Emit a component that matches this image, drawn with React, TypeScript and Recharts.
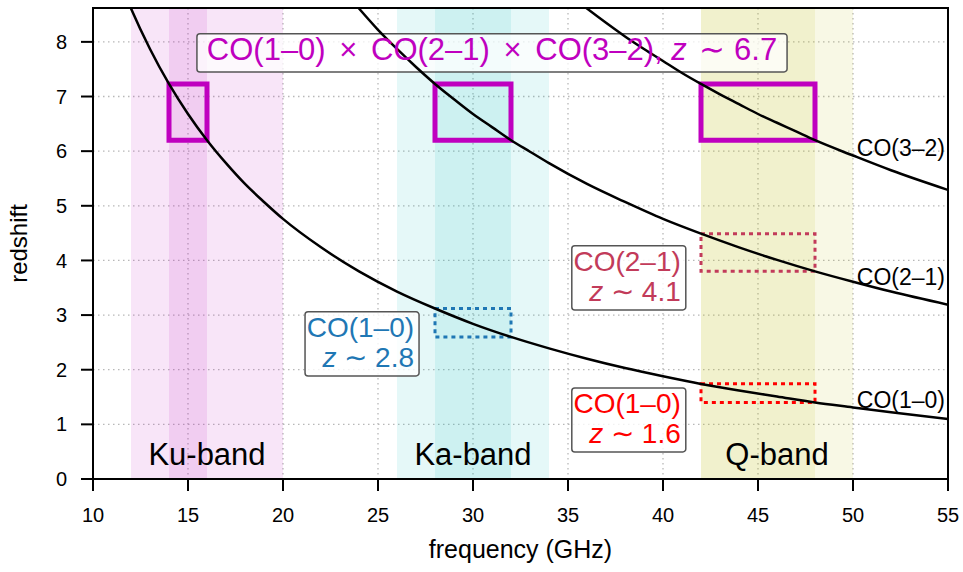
import React from "react";
import {
  CartesianGrid,
  ComposedChart,
  Line,
  ReferenceArea,
  ReferenceDot,
  XAxis,
  YAxis,
} from "recharts";

const co10Freq = [11, 12, 13, 14, 15, 16, 17, 18, 19, 20, 22, 24, 26, 28, 30, 32, 34, 36, 38, 40, 42, 44, 46, 48, 50, 52, 55];
const co10Z = [9.48, 8.61, 7.87, 7.23, 6.68, 6.2, 5.78, 5.4, 5.07, 4.76, 4.24, 3.8, 3.43, 3.12, 2.84, 2.6, 2.39, 2.2, 2.03, 1.88, 1.74, 1.62, 1.51, 1.4, 1.31, 1.22, 1.1];

const co21Freq = [23, 24, 25, 26, 27, 28, 29, 30, 31, 32, 33, 34, 36, 38, 40, 42, 44, 46, 48, 50, 52, 55];
const co21Z = [9.02, 8.61, 8.22, 7.87, 7.54, 7.23, 6.95, 6.68, 6.44, 6.2, 5.99, 5.78, 5.4, 5.07, 4.76, 4.49, 4.24, 4.01, 3.8, 3.61, 3.43, 3.19];

const co32Freq = [35, 36, 37, 38, 39, 40, 41, 42, 43, 44, 45, 46, 47, 48, 50, 52, 55];
const co32Z = [8.88, 8.61, 8.35, 8.1, 7.87, 7.65, 7.43, 7.23, 7.04, 6.86, 6.68, 6.52, 6.36, 6.2, 5.92, 5.65, 5.29];

const curveNames = ["CO(1–0)", "CO(2–1)", "CO(3–2)"];
const curveLabelZ = [1.3, 3.55, 5.92];

// receiver bands
const bandNames = ["Ku-band", "Ka-band", "Q-band"];
const bandOuter = [[12, 20], [26, 34], [42, 50]];
const bandInner = [[14, 16], [28, 32], [42, 48]];
const bandColors = ["#bf00bf", "#00bfbf", "#bfbf00"];
const bandLabelX = [16, 30, 46];

// z ~ 6.7 triple-line window
const tripleZ = [6.2, 7.23];

// single-line detection windows
const detLines = ["CO(1–0)", "CO(2–1)", "CO(1–0)"];
const detZText = ["2.8", "4.1", "1.6"];
const detColors = ["#1f77b4", "#c23b5a", "#ff0000"];
const detX = [[28, 32], [42, 48], [42, 48]];
const detY = [[2.6, 3.12], [3.8, 4.49], [1.4, 1.745]];
const detBoxX = [[21.16, 27.16], [35.2, 41.2], [35.2, 41.2]];
const detBoxY = [[1.886, 3.06], [3.095, 4.27], [0.495, 1.667]];

const xTicks = [10, 15, 20, 25, 30, 35, 40, 45, 50, 55];
const yTicks = [0, 1, 2, 3, 4, 5, 6, 7, 8];

const toRows = (fs: number[], zs: number[]) => fs.map((f, i) => ({ f, z: zs[i] }));
const curves = [toRows(co10Freq, co10Z), toRows(co21Freq, co21Z), toRows(co32Freq, co32Z)];

const MAGENTA = "#bf00bf";

export default function App() {
  return (
    <div
      style={{
        position: "absolute",
        left: 0,
        top: 0,
        width: 963,
        height: 572,
        background: "#fff",
        fontFamily: '"Liberation Sans", Arial, sans-serif',
      }}
    >
      <ComposedChart width={963} height={572} margin={{ top: 8, right: 15, left: 0, bottom: 0 }}>
        <CartesianGrid stroke="#b8b8b8" strokeWidth={1.3} strokeDasharray="1.5 3.5" />
        <XAxis
          type="number"
          dataKey="f"
          domain={[10, 55]}
          ticks={xTicks}
          allowDataOverflow
          height={93}
          stroke="#000"
          strokeWidth={2}
          tickSize={12}
          tickMargin={17}
          tick={{ fill: "#000", fontSize: 20 }}
          label={({ viewBox }: any) => (
            <text x={viewBox.x + viewBox.width / 2} y={viewBox.y + 79} textAnchor="middle" fontSize={25} fill="#000">
              frequency (GHz)
            </text>
          )}
        />
        <YAxis
          type="number"
          domain={[0, 8.62]}
          ticks={yTicks}
          allowDataOverflow
          width={93}
          stroke="#000"
          strokeWidth={2}
          tickSize={12}
          tickMargin={14}
          tick={{ fill: "#000", fontSize: 20 }}
          label={({ viewBox }: any) => {
            const cy = viewBox.y + viewBox.height / 2;
            return (
              <text x={27} y={cy} transform={`rotate(-90 27 ${cy})`} textAnchor="middle" fontSize={24} fill="#000">
                redshift
              </text>
            );
          }}
        />

        {bandOuter.map((b, i) => (
          <ReferenceArea key={`bo${i}`} x1={b[0]} x2={b[1]} y1={0} y2={8.62} fill={bandColors[i]} fillOpacity={0.1} stroke="none" />
        ))}
        {bandInner.map((b, i) => (
          <ReferenceArea key={`bi${i}`} x1={b[0]} x2={b[1]} y1={0} y2={8.62} fill={bandColors[i]} fillOpacity={0.1} stroke="none" />
        ))}

        {curves.map((d, i) => (
          <Line
            key={curveNames[i]}
            data={d}
            dataKey="z"
            type="monotone"
            stroke="#000"
            strokeWidth={2.5}
            dot={false}
            isAnimationActive={false}
          />
        ))}

        {bandInner.map((b, i) => (
          <ReferenceArea key={`tr${i}`} x1={b[0]} x2={b[1]} y1={tripleZ[0]} y2={tripleZ[1]} fill="none" stroke={MAGENTA} strokeWidth={5} />
        ))}
        {detX.map((b, i) => (
          <ReferenceArea
            key={`dr${i}`}
            x1={b[0]}
            x2={b[1]}
            y1={detY[i][0]}
            y2={detY[i][1]}
            fill="none"
            stroke={detColors[i]}
            strokeWidth={3}
            strokeDasharray="4 4"
          />
        ))}

        <ReferenceArea x1={10} x2={55} y1={0} y2={8.62} fill="none" stroke="#000" strokeWidth={2} />

        {/* title box */}
        <ReferenceArea x1={15.47} x2={46.53} y1={7.45} y2={8.15} fill="#fff" fillOpacity={0.75} stroke="#555" strokeWidth={1.5} radius={3} />
        <ReferenceDot
          x={31}
          y={7.45}
          r={0}
          shape={(p: any) => (
            <text x={p.cx} y={p.cy - 12} textAnchor="middle" fontSize={31} fill={MAGENTA}>
              CO(1–0)
              <tspan dx={5}> × </tspan>
              <tspan dx={5}>CO(2–1)</tspan>
              <tspan dx={5}> × </tspan>
              <tspan dx={5}>CO(3–2), </tspan>
              <tspan fontStyle="italic">z</tspan>
              <tspan dx={4}> ∼ 6.7</tspan>
            </text>
          )}
        />

        {detBoxX.map((b, i) => (
          <ReferenceArea
            key={`db${i}`}
            x1={b[0]}
            x2={b[1]}
            y1={detBoxY[i][0]}
            y2={detBoxY[i][1]}
            fill="#fff"
            fillOpacity={0.8}
            stroke="#555"
            strokeWidth={1.5}
            radius={3}
          />
        ))}
        {detBoxX.map((b, i) => (
          <ReferenceDot
            key={`dt${i}`}
            x={b[1]}
            y={detBoxY[i][1]}
            r={0}
            shape={(p: any) => (
              <text x={p.cx - 5} y={p.cy} textAnchor="end" fontSize={28} fill={detColors[i]}>
                <tspan x={p.cx - 5} dy={25}>
                  {detLines[i]}
                </tspan>
                <tspan x={p.cx - 5} dy={30}>
                  <tspan fontStyle="italic">z</tspan> ∼ {detZText[i]}
                </tspan>
              </text>
            )}
          />
        ))}

        {bandNames.map((n, i) => (
          <ReferenceDot
            key={n}
            x={bandLabelX[i]}
            y={0.26}
            r={0}
            shape={(p: any) => (
              <text x={p.cx} y={p.cy} textAnchor="middle" fontSize={31} fill="#000">
                {n}
              </text>
            )}
          />
        ))}

        {curveNames.map((n, i) => (
          <ReferenceDot
            key={`cl${i}`}
            x={50.2}
            y={curveLabelZ[i]}
            r={0}
            shape={(p: any) => (
              <text x={p.cx} y={p.cy} textAnchor="start" fontSize={23} fill="#000">
                {n}
              </text>
            )}
          />
        ))}
      </ComposedChart>
    </div>
  );
}
